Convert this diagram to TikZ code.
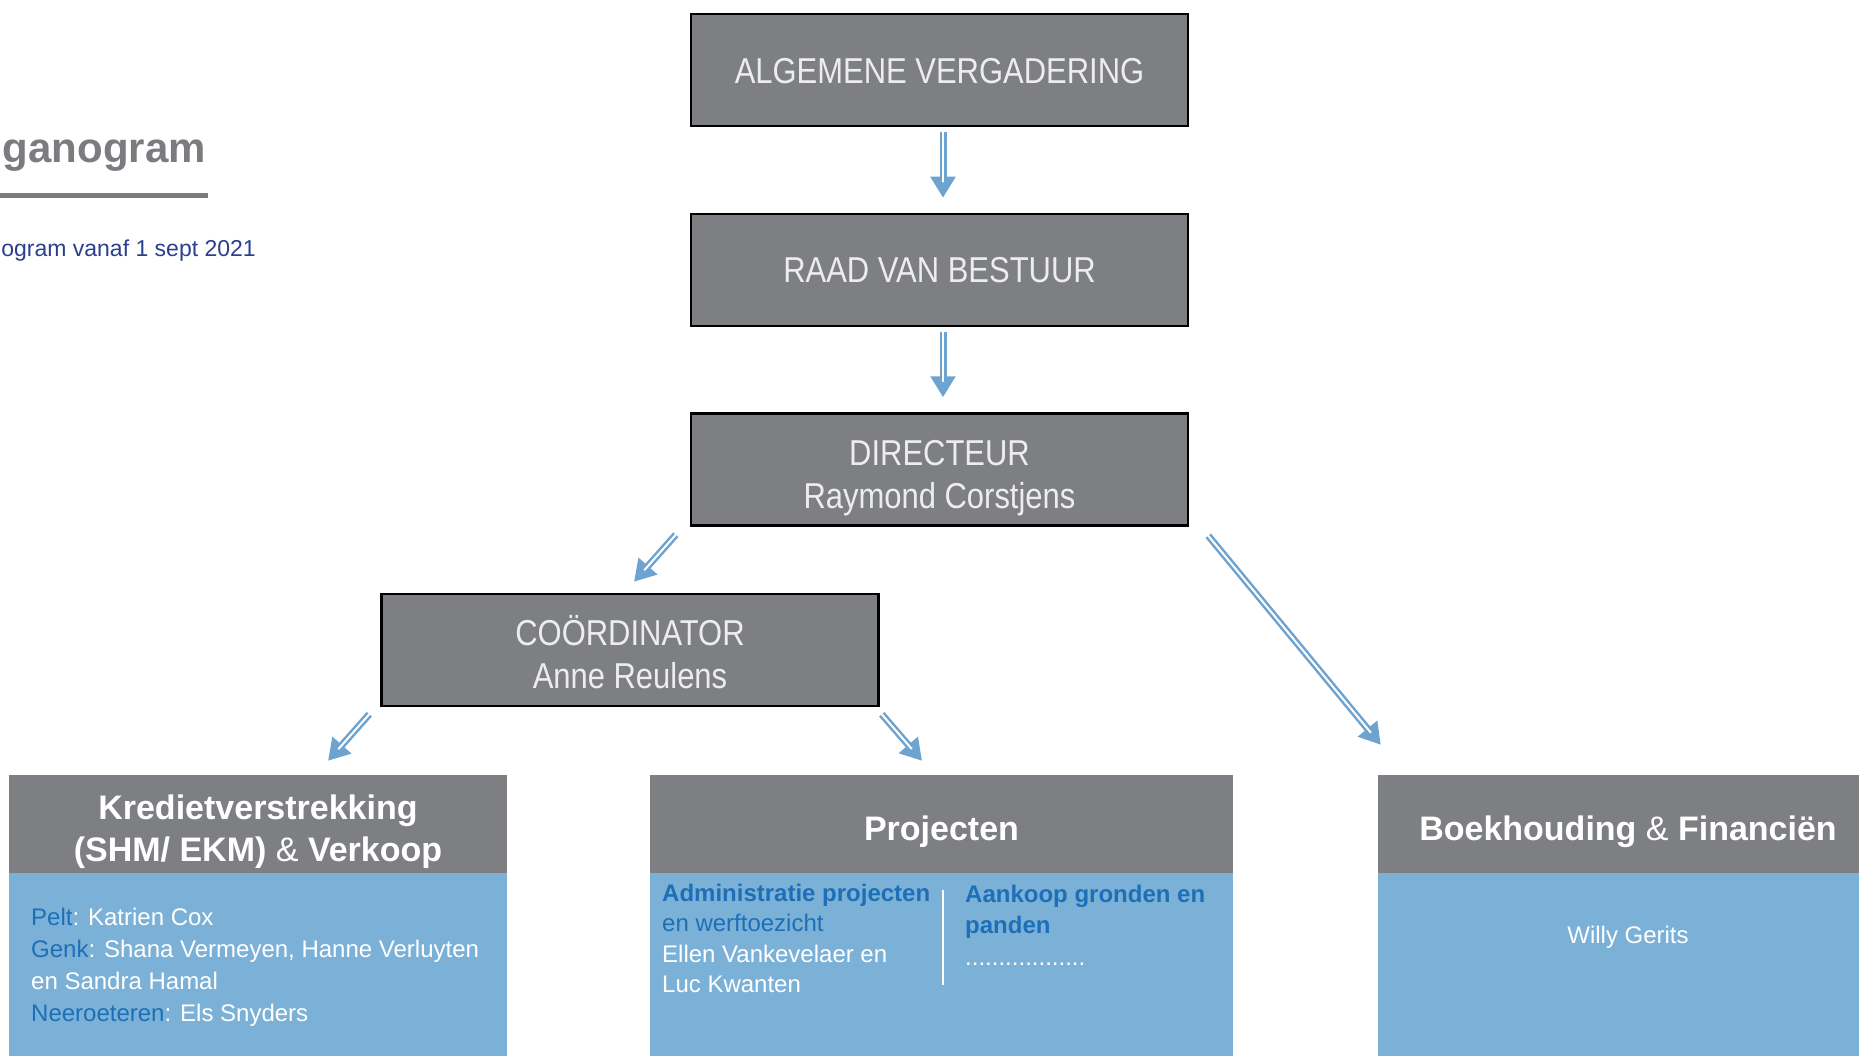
\documentclass[tikz,border=0pt]{standalone}
\usepackage{fontspec}
\setmainfont{Liberation Sans}
\newfontfamily\condfont[FakeStretch=0.86]{Liberation Sans}
\usetikzlibrary{arrows.meta,calc}
\definecolor{boxgray}{HTML}{7E7F83}
\definecolor{bodyblue}{HTML}{7BB1D7}
\definecolor{textblue}{HTML}{1D6FB8}
\definecolor{arrowblue}{HTML}{6FA3CF}
\definecolor{boxtext}{HTML}{EDEDED}
\definecolor{navy}{HTML}{2B3F8F}
\definecolor{titlegray}{HTML}{7B7C80}
\newcommand\fsz[2]{\fontsize{#1}{#2}\selectfont}
\newcommand\lowr[1]{\rule{0pt}{#1}}
\tikzset{
  topbox/.style={draw=black, line width=2.5pt, fill=boxgray, text=boxtext,
    minimum width=497pt, minimum height=112pt, inner sep=0pt, align=center,
    font=\condfont\fsz{36}{43}},
  headbox/.style={fill=boxgray, text=white, minimum height=98pt, inner sep=0pt,
    align=center, font=\bfseries\fsz{34}{42}},
  bodybox/.style={fill=bodyblue, inner sep=0pt, anchor=north, minimum height=183pt},
  bodytext/.style={text=white, inner sep=0pt, align=left, font=\fsz{24}{32}},
  arr/.style={draw=arrowblue, line width=7pt, -{Triangle[length=21pt,width=24pt]}},
  arrin/.style={draw=white, line width=2pt, line cap=round, shorten >=16pt},
}
\begin{document}
\begin{tikzpicture}[x=1pt,y=-1pt]
\useasboundingbox (0,0) rectangle (1859,1056);
\fill[white] (0,0) rectangle (1859,1056);

% title
\node[anchor=base east, inner sep=0pt, text=titlegray, font=\bfseries\fsz{42}{48}] (title) at (206,163) {ganogram};
\fill[titlegray] (0,193.5) rectangle (208,198.5);
\node[anchor=base east, inner sep=0pt, text=navy, font=\fsz{23}{28}] (sub) at (256,257) {ogram vanaf 1 sept 2021};

% top boxes
\node[topbox] (av) at (939.5,70) {\lowr{28pt}ALGEMENE VERGADERING};
\node[topbox] (rvb) at (939.5,270) {RAAD VAN BESTUUR};
\node[topbox] (dir) at (939.5,469.5) {\lowr{42pt}DIRECTEUR\\Raymond Corstjens};
\node[topbox] (coord) at (630,650) {\lowr{34pt}COÖRDINATOR\\Anne Reulens};

% bottom headers
\node[headbox, minimum width=498pt] (kred) at (258,824) {\lowr{40.5pt}Kredietverstrekking\\(SHM/ EKM) {\mdseries\&} Verkoop};
\node[headbox, minimum width=583pt] (proj) at (941.5,824) {\lowr{40.5pt}Projecten};
\node[headbox, minimum width=481pt] (boek) at (1618.5,824) {\lowr{41pt}\hspace*{19pt}Boekhouding {\mdseries\&} Financiën};

% bottom bodies
\node[bodybox, minimum width=498pt] (kredb) at (kred.south) {};
\node[bodybox, minimum width=583pt] (projb) at (proj.south) {};
\node[bodybox, minimum width=481pt] (boekb) at (boek.south) {};

% body texts (base anchor = baseline of last line)
\node[bodytext, anchor=base west] (kredt) at (31,1021)
  {\textcolor{textblue}{Pelt}: Katrien Cox\\\textcolor{textblue}{Genk}: Shana Vermeyen, Hanne Verluyten\\en Sandra Hamal\\\textcolor{textblue}{Neeroeteren}: Els Snyders};
\node[bodytext, anchor=base west, font=\fsz{24}{30.5}] (projl) at (662,992.5)
  {\textcolor{textblue}{\bfseries Administratie projecten}\\\textcolor{textblue}{en werftoezicht}\\Ellen Vankevelaer en\\Luc Kwanten};
\node[bodytext, anchor=base west, font=\fsz{24}{31.5}] (projr) at (965,965)
  {\textcolor{textblue}{\bfseries Aankoop gronden en}\\\textcolor{textblue}{\bfseries panden}\\..................};
\draw[white, line width=2.5pt] (943,890) -- (943,985);
\node[bodytext, anchor=base] (willy) at (1628,943) {Willy Gerits};

% arrows
\coordinate (a1s) at ($(av.south)+(3.5,5)$);
\coordinate (a1e) at ($(rvb.north)+(3.5,-15)$);
\coordinate (a2s) at ($(rvb.south)+(3.5,5)$);
\coordinate (a2e) at ($(dir.north)+(3.5,-15)$);
\coordinate (a3s) at ($(dir.south west)+(-14,8)$);
\coordinate (a3e) at ($(coord.north)+(4,-11)$);
\coordinate (a4s) at ($(coord.south west)+(-11,7)$);
\coordinate (a4e) at ($(kred.north)+(70,-14)$);
\coordinate (a5s) at ($(coord.south east)+(2,7)$);
\coordinate (a5e) at ($(proj.north)+(-19.5,-14)$);
\coordinate (a6s) at ($(dir.south east)+(19,9)$);
\coordinate (a6e) at ($(boek.north west)+(3,-30)$);
\foreach \s/\e in {a1s/a1e,a2s/a2e,a3s/a3e,a4s/a4e,a5s/a5e,a6s/a6e}{
  \draw[arr] (\s) -- (\e);
  \draw[arrin] (\s) -- (\e);
}
\end{tikzpicture}
\end{document}
